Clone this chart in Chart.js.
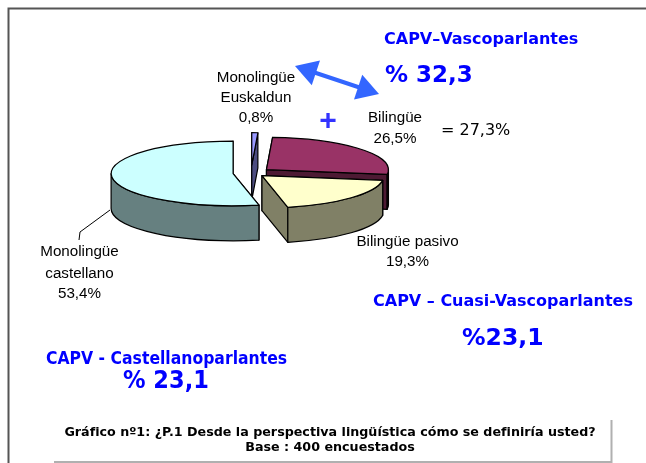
<!DOCTYPE html>
<html lang="es">
<head>
<meta charset="UTF-8" />
<title>Gráfico nº1</title>
<script src="https://cdn.jsdelivr.net/npm/chart.js@4/dist/chart.umd.min.js"></script>
<style>
   html, body { margin: 0; padding: 0; background: #fff; }
   canvas { display: block; }
</style>
</head>
<body>
<canvas id="chart" width="646" height="463"></canvas>
<script>
const categories = ['Monolingüe Euskaldun', 'Bilingüe', 'Bilingüe pasivo', 'Monolingüe castellano'];
const shares = [0.8, 26.5, 19.3, 53.4];
const explode = [30, 20, 15, 18];
const topColors = ['#9999ff', '#993366', '#ffffcc', '#ccffff'];
const wallColors = ['#4d4d80', '#4d1a33', '#808066', '#668080'];
const drawOrder = [0, 1, 3, 2];

const SQUASH = 0.265;
const DEPTH = 35;

const SANS = '"Liberation Sans", Arial, sans-serif';
const VERDANA = '"DejaVu Sans", Verdana, sans-serif';
const TAHOMA = '"DejaVu Sans Condensed", "Noto Sans", sans-serif';

function fmt(v) { return v.toFixed(1).replace('.', ',') + '%'; }

// [text, x, y, font, colour, align]
const texts = [
   ['Monolingüe', 256, 78, '15.2px ' + SANS, '#000', 'center'],
   ['Euskaldun', 256, 98, '15.2px ' + SANS, '#000', 'center'],
   [fmt(shares[0]), 256, 118, '15.2px ' + SANS, '#000', 'center'],
   [categories[1], 395, 118, '15.2px ' + SANS, '#000', 'center'],
   [fmt(shares[1]), 395, 139, '15.2px ' + SANS, '#000', 'center'],
   ['= 27,3%', 441, 131, '16px ' + VERDANA, '#000', 'left'],
   [categories[2], 407.5, 242, '15.2px ' + SANS, '#000', 'center'],
   [fmt(shares[2]), 407.5, 262, '15.2px ' + SANS, '#000', 'center'],
   ['Monolingüe', 79.5, 252, '15.2px ' + SANS, '#000', 'center'],
   ['castellano', 79.5, 274, '15.2px ' + SANS, '#000', 'center'],
   [fmt(shares[3]), 79.5, 294, '15.2px ' + SANS, '#000', 'center'],
   ['CAPV–Vascoparlantes', 384, 40, 'bold 16px ' + VERDANA, '#0000ff', 'left'],
   ['% 32,3', 385, 76, 'bold 23px ' + VERDANA, '#0000ff', 'left'],
   ['CAPV – Cuasi-Vascoparlantes', 373, 302, 'bold 16px ' + VERDANA, '#0000ff', 'left'],
   ['%23,1', 462, 339, 'bold 23.5px ' + VERDANA, '#0000ff', 'left'],
   ['CAPV - Castellanoparlantes', 46, 359, 'bold 17.4px ' + TAHOMA, '#0000ff', 'left'],
   ['% 23,1', 123, 381, 'bold 25px ' + TAHOMA, '#0000ff', 'left'],
   ['Gráfico nº1: ¿P.1 Desde la perspectiva lingüística cómo se definiría usted?', 330, 433, 'bold 12.7px ' + VERDANA, '#000', 'center'],
   ['Base : 400 encuestados', 330, 448, 'bold 12.7px ' + VERDANA, '#000', 'center'],
   ['+', 328, 122, 'bold 30px ' + SANS, '#3333ff', 'center']
];

function line(ctx, pts, color, width) {
   ctx.beginPath();
   pts.forEach((p, i) => i ? ctx.lineTo(p[0], p[1]) : ctx.moveTo(p[0], p[1]));
   ctx.strokeStyle = color;
   ctx.lineWidth = width;
   ctx.stroke();
}

function arrowHead(ctx, tip, ux, uy) {
   const len = 22, half = 13;
   ctx.beginPath();
   ctx.moveTo(tip[0], tip[1]);
   ctx.lineTo(tip[0] - ux * len - uy * half, tip[1] - uy * len + ux * half);
   ctx.lineTo(tip[0] - ux * len + uy * half, tip[1] - uy * len - ux * half);
   ctx.closePath();
   ctx.fill();
}

// one slice of the pie: walls first, top face last
function drawSlice(ctx, arc, top, wall) {
   const off = arc.options.offset;
   const mid = (arc.startAngle + arc.endAngle) / 2;
   const cx = arc.x + Math.cos(mid) * off;
   const cy = arc.y + Math.sin(mid) * off * SQUASH;
   const r = arc.outerRadius;
   const a0 = arc.startAngle, a1 = arc.endAngle;
   const ex = a => cx + Math.cos(a) * r;
   const ey = a => cy + Math.sin(a) * r * SQUASH;

   ctx.lineWidth = 1.2;
   ctx.strokeStyle = '#000';
   ctx.lineJoin = 'round';

   // flat cut sides
   [a0, a1].forEach(a => {
      ctx.beginPath();
      ctx.moveTo(cx, cy);
      ctx.lineTo(ex(a), ey(a));
      ctx.lineTo(ex(a), ey(a) + DEPTH);
      ctx.lineTo(cx, cy + DEPTH);
      ctx.closePath();
      ctx.fillStyle = wall;
      ctx.fill();
      ctx.stroke();
   });

   // rim, only the part facing the viewer
   const from = Math.max(a0, 0), to = Math.min(a1, Math.PI);
   if (to > from) {
      ctx.beginPath();
      ctx.ellipse(cx, cy, r, r * SQUASH, 0, from, to);
      ctx.lineTo(ex(to), ey(to) + DEPTH);
      ctx.ellipse(cx, cy + DEPTH, r, r * SQUASH, 0, to, from, true);
      ctx.closePath();
      ctx.fillStyle = wall;
      ctx.fill();
      ctx.stroke();
   }

   // top
   ctx.beginPath();
   ctx.moveTo(cx, cy);
   ctx.ellipse(cx, cy, r, r * SQUASH, 0, a0, a1);
   ctx.closePath();
   ctx.fillStyle = top;
   ctx.fill();
   ctx.stroke();
}

const pie3d = {
   id: 'pie3d',
   beforeDatasetsDraw(chart) {
      const ctx = chart.ctx;
      const arcs = chart.getDatasetMeta(0).data;
      ctx.save();
      // page frame
      line(ctx, [[8.5, 463], [8.5, 8.5], [646, 8.5]], '#555', 2);
      drawOrder.forEach(i => drawSlice(ctx, arcs[i], topColors[i], wallColors[i]));
      // leader line
      line(ctx, [[110, 210], [80, 232], [79, 240]], '#000', 1);
      ctx.restore();
      return false;
   },
   afterDraw(chart) {
      const ctx = chart.ctx;
      ctx.save();
      // caption box
      line(ctx, [[54, 462], [611.5, 462], [611.5, 420]], '#b0b0b0', 2);
      // double arrow
      const a = [295, 66], b = [379, 94];
      const d = Math.hypot(b[0] - a[0], b[1] - a[1]);
      const ux = (b[0] - a[0]) / d, uy = (b[1] - a[1]) / d;
      line(ctx, [[a[0] + ux * 15, a[1] + uy * 15], [b[0] - ux * 15, b[1] - uy * 15]], '#3366ff', 4);
      ctx.fillStyle = '#3366ff';
      arrowHead(ctx, b, ux, uy);
      arrowHead(ctx, a, -ux, -uy);
      ctx.textBaseline = 'middle';
      texts.forEach(t => {
         ctx.font = t[3];
         ctx.fillStyle = t[4];
         ctx.textAlign = t[5];
         ctx.fillText(t[0], t[1], t[2]);
      });
      ctx.restore();
   }
};

new Chart(document.getElementById('chart'), {
   type: 'pie',
   data: {
      labels: categories,
      datasets: [{
         data: shares,
         backgroundColor: topColors,
         borderColor: '#000',
         borderWidth: 1,
         offset: explode
      }]
   },
   options: {
      responsive: false,
      animation: false,
      radius: 122,
      layout: { padding: { right: 144, bottom: 117 } },
      events: [],
      plugins: { legend: { display: false }, tooltip: { enabled: false } }
   },
   plugins: [pie3d]
});
</script>
</body>
</html>
